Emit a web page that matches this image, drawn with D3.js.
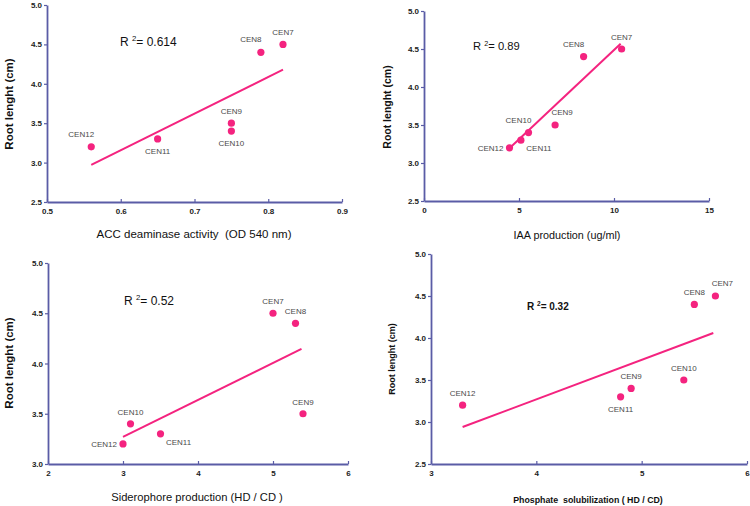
<!DOCTYPE html>
<html><head><meta charset="utf-8">
<script src="https://cdn.jsdelivr.net/npm/d3@7"></script>
<style>
html,body{margin:0;padding:0;background:#fff;}
svg{display:block;font-family:Arial,"Liberation Sans",sans-serif;}
text{white-space:pre;}
</style></head>
<body>
<svg id="chart" width="750" height="506"></svg>
<script>
// ---------- data ----------
const strainsACC = ["CEN12","CEN11","CEN10","CEN9","CEN8","CEN7"];
const accActivity = [0.56, 0.65, 0.75, 0.75, 0.79, 0.82];
const rootACC = [3.2, 3.3, 3.4, 3.5, 4.4, 4.5];
const fitACCx = [0.56, 0.82];
const fitACCy = [2.97, 4.18];
const r2ACC = "0.614";
const xTicksACC = [0.5, 0.6, 0.7, 0.8, 0.9];
const yTicksACC = [2.5, 3.0, 3.5, 4.0, 4.5, 5.0];

const strainsIAA = ["CEN12","CEN11","CEN10","CEN9","CEN8","CEN7"];
const iaaProduction = [4.5, 5.1, 5.5, 6.9, 8.4, 10.4];
const rootIAA = [3.2, 3.3, 3.4, 3.5, 4.4, 4.5];
const fitIAAx = [4.4, 10.35];
const fitIAAy = [3.17, 4.57];
const r2IAA = "0.89";
const xTicksIAA = [0, 5, 10, 15];
const yTicksIAA = [2.5, 3.0, 3.5, 4.0, 4.5, 5.0];

const strainsSid = ["CEN12","CEN10","CEN11","CEN7","CEN8","CEN9"];
const siderophore = [3.0, 3.1, 3.5, 5.0, 5.3, 5.4];
const rootSid = [3.2, 3.4, 3.3, 4.5, 4.4, 3.5];
const fitSidx = [3.0, 5.38];
const fitSidy = [3.27, 4.145];
const r2Sid = "0.52";
const xTicksSid = [2, 3, 4, 5, 6];
const yTicksSid = [3.0, 3.5, 4.0, 4.5, 5.0];

const strainsPhos = ["CEN12","CEN11","CEN9","CEN10","CEN8","CEN7"];
const phosphate = [3.3, 4.8, 4.9, 5.4, 5.5, 5.7];
const rootPhos = [3.2, 3.3, 3.4, 3.5, 4.4, 4.5];
const fitPhosx = [3.3, 5.68];
const fitPhosy = [2.94, 4.06];
const r2Phos = "0.32";
const xTicksPhos = [3, 4, 5, 6];
const yTicksPhos = [2.5, 3.0, 3.5, 4.0, 4.5, 5.0];

// label placement keywords per point
const placeACC = ["aboveLeft","below","below","above","aboveLeft","above"];
const placeIAA = ["left","belowRight","aboveLeft","aboveRight","aboveLeft","above"];
const placeSid = ["left","above","belowRight","above","above","above"];
const placePhos = ["above","below","above","above","above","aboveRight"];

// ---------- drawing ----------
const PINK = "#f4237f";
const AXIS = "#5a5ca6";
const svg = d3.select("#chart");

const panels = [
  {xs: accActivity, ys: rootACC, names: strainsACC, place: placeACC, fx: fitACCx, fy: fitACCy, r2: r2ACC,
   xt: xTicksACC, yt: yTicksACC, xdom:[0.5,0.9], ydom:[2.5,5.0], xfmt: d3.format(".1f"),
   px:[47,342], py:[202,5], xtitle:"ACC deaminase activity  (OD 540 nm)", xtitleX:194, xtitleY:238, xtitleSize:11.5, xtitleWeight:"normal",
   ytitleX:13, ytitleY:104, ytitleSize:11.5, r2X:120, r2Y:46, r2Size:12, r2Weight:"normal"},
  {xs: iaaProduction, ys: rootIAA, names: strainsIAA, place: placeIAA, fx: fitIAAx, fy: fitIAAy, r2: r2IAA,
   xt: xTicksIAA, yt: yTicksIAA, xdom:[0,15], ydom:[2.5,5.0], xfmt: d3.format("d"),
   px:[424,709], py:[201,11], xtitle:"IAA production (ug/ml)", xtitleX:567, xtitleY:239, xtitleSize:10.8, xtitleWeight:"normal",
   ytitleX:391, ytitleY:107, ytitleSize:10.5, r2X:473, r2Y:50, r2Size:11.2, r2Weight:"normal"},
  {xs: siderophore, ys: rootSid, names: strainsSid, place: placeSid, fx: fitSidx, fy: fitSidy, r2: r2Sid,
   xt: xTicksSid, yt: yTicksSid, xdom:[2,6], ydom:[3.0,5.0], xfmt: d3.format("d"),
   px:[48,348], py:[464,263], xtitle:"Siderophore production (HD / CD )", xtitleX:197, xtitleY:501, xtitleSize:11.2, xtitleWeight:"normal",
   ytitleX:13, ytitleY:363, ytitleSize:11.5, r2X:124, r2Y:305, r2Size:12, r2Weight:"normal"},
  {xs: phosphate, ys: rootPhos, names: strainsPhos, place: placePhos, fx: fitPhosx, fy: fitPhosy, r2: r2Phos,
   xt: xTicksPhos, yt: yTicksPhos, xdom:[3,6], ydom:[2.5,5.0], xfmt: d3.format("d"),
   px:[431,747], py:[464,254], xtitle:"Phosphate  solubilization ( HD / CD)", xtitleX:588, xtitleY:503, xtitleSize:8.8, xtitleWeight:"bold",
   ytitleX:395, ytitleY:359, ytitleSize:9, r2X:527, r2Y:310, r2Size:10, r2Weight:"bold"}
];

panels.forEach(p => {
  const x = d3.scaleLinear().domain(p.xdom).range(p.px);
  const y = d3.scaleLinear().domain(p.ydom).range(p.py);
  const g = svg.append("g");

  // x axis
  const xa = g.append("g").attr("transform", `translate(0,${p.py[0]})`)
    .call(d3.axisBottom(x).tickValues(p.xt).tickFormat(p.xfmt).tickSizeInner(-3).tickSizeOuter(0).tickPadding(6));
  // y axis
  const ya = g.append("g").attr("transform", `translate(${p.px[0]},0)`)
    .call(d3.axisLeft(y).tickValues(p.yt).tickFormat(d3.format(".1f")).tickSizeInner(3).tickSizeOuter(0).tickPadding(2));
  [xa, ya].forEach(a => {
    a.select(".domain").attr("stroke", AXIS).attr("stroke-width", 1.8);
    a.selectAll(".tick line").attr("stroke", AXIS).attr("stroke-width", 1.2);
    a.selectAll(".tick text").attr("fill", "#222").attr("font-size", 8).attr("font-weight", "bold")
      .attr("font-family", "Arial, 'Liberation Sans', sans-serif");
  });

  // titles
  g.append("text").attr("x", p.xtitleX).attr("y", p.xtitleY).attr("text-anchor", "middle")
    .attr("xml:space", "preserve")
    .attr("font-size", p.xtitleSize).attr("font-weight", p.xtitleWeight).attr("fill", "#111").text(p.xtitle);
  g.append("text").attr("transform", `translate(${p.ytitleX},${p.ytitleY}) rotate(-90)`)
    .attr("text-anchor", "middle").attr("font-size", p.ytitleSize).attr("font-weight", "bold")
    .attr("fill", "#111").text("Root lenght (cm)");

  // R^2
  const t = g.append("text").attr("x", p.r2X).attr("y", p.r2Y).attr("font-size", p.r2Size)
    .attr("font-weight", p.r2Weight).attr("fill", "#111");
  t.append("tspan").text("R ");
  t.append("tspan").attr("font-size", p.r2Size * 0.65).attr("dy", -p.r2Size * 0.4).text("2");
  t.append("tspan").attr("dy", p.r2Size * 0.4).text("= " + p.r2);

  // fit line
  g.append("line").attr("x1", x(p.fx[0])).attr("y1", y(p.fy[0]))
    .attr("x2", x(p.fx[1])).attr("y2", y(p.fy[1]))
    .attr("stroke", PINK).attr("stroke-width", 2);

  // points
  const idx = d3.range(p.xs.length);
  g.selectAll("circle").data(idx).join("circle")
    .attr("cx", i => x(p.xs[i])).attr("cy", i => y(p.ys[i])).attr("r", 3.6).attr("fill", PINK);

  // labels
  const off = {
    above: [0, -9, "middle"], below: [0, 15, "middle"], aboveLeft: [-10, -10, "middle"],
    aboveRight: [7, -10, "middle"], belowRight: [18, 11, "middle"], left: [-6, 3, "end"]
  };
  g.selectAll("text.lab").data(idx).join("text").attr("class", "lab")
    .attr("x", i => x(p.xs[i]) + off[p.place[i]][0])
    .attr("y", i => y(p.ys[i]) + off[p.place[i]][1])
    .attr("text-anchor", i => off[p.place[i]][2])
    .attr("font-size", 8).attr("fill", "#4a4a4a")
    .text(i => p.names[i]);
});
</script>
</body></html>
